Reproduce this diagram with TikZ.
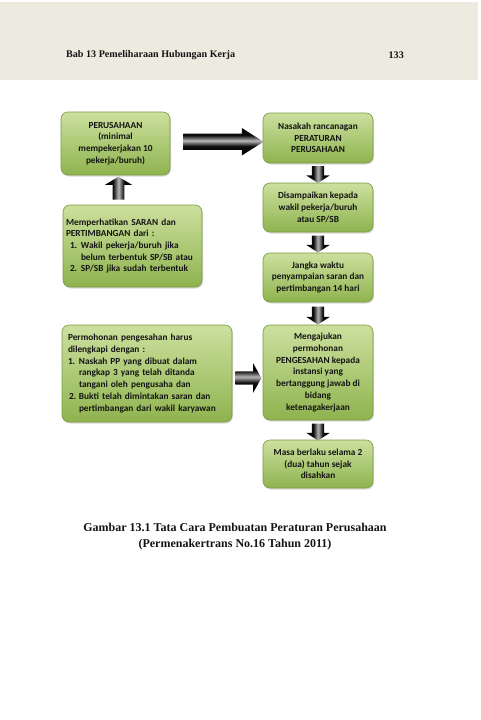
\documentclass[tikz,border=0pt]{standalone}
\usepackage{fontspec}
\setmainfont{Liberation Serif}
\newfontfamily\boxfont{Carlito}
\usetikzlibrary{positioning,calc,shapes.arrows,shadows}

\definecolor{bandgray}{HTML}{EDEAE0}
\definecolor{boxtop}{HTML}{CCE09E}
\definecolor{boxbottom}{HTML}{8FB34F}
\definecolor{boxline}{HTML}{7A9A40}
\definecolor{inkdark}{HTML}{141414}

\pgfdeclareverticalshading{arrowshadeh}{100bp}{color(0bp)=(black!85); color(30bp)=(black);
  color(42bp)=(black!95); color(52bp)=(gray!55); color(62bp)=(black!95); color(80bp)=(black); color(100bp)=(black!80)}
\pgfdeclarehorizontalshading{arrowshadev}{100bp}{color(0bp)=(black!85); color(30bp)=(black);
  color(40bp)=(black!95); color(50bp)=(gray!55); color(60bp)=(black!95); color(70bp)=(black); color(100bp)=(black!85)}

\newcommand{\numitem}[1]{\makebox[11pt][l]{#1}}
\newcommand{\contline}{\hspace*{11pt}}

\tikzset{
  stepbox/.style={rectangle, rounded corners=7pt, draw=boxline, line width=0.6pt,
    top color=boxtop, bottom color=boxbottom,
    drop shadow={opacity=0.3, shadow xshift=1pt, shadow yshift=-1.5pt},
    font=\boxfont\bfseries\fontsize{9.3}{11.7}\selectfont, text=inkdark,
    align=center, inner sep=3pt},
  notebox/.style={stepbox, align=left},
  blockarrow/.style={single arrow, draw=none, shade},
  harrow/.style={blockarrow, shading=arrowshadeh},
  varrow/.style={blockarrow, shading=arrowshadev},
  headtext/.style={font=\bfseries\fontsize{10.1}{12}\selectfont, text=inkdark, inner sep=0pt},
  captext/.style={font=\bfseries\fontsize{12}{14}\selectfont, text=inkdark, inner sep=0pt}
}

\begin{document}
\begin{tikzpicture}[x=1pt,y=-1pt]
\useasboundingbox (0,0) rectangle (480,720);

% header
\fill[bandgray] (0,2) rectangle (478,80);
\node[headtext, anchor=west] (chapter) at (66,55) {Bab 13 Pemeliharaan Hubungan Kerja};
\node[headtext, anchor=east] (pagenum) at (404,55) {133};

% left column
\node[stepbox, minimum width=109pt, minimum height=63pt] (company) at (115.5,143.5)
  {PERUSAHAAN\\(minimal\\mempekerjakan 10\\pekerja/buruh)};
\node[notebox, text width=133pt, minimum height=82pt] (advice) at (132.5,246)
  {Memperhatikan SARAN dan\\PERTIMBANGAN dari :\\
   \hspace*{4pt}\numitem{1.}Wakil pekerja/buruh jika\\
   \hspace*{4pt}\contline belum terbentuk SP/SB atau\\
   \hspace*{4pt}\numitem{2.}SP/SB jika sudah terbentuk};
\node[notebox, text width=158pt, inner xsep=6pt, minimum height=97pt] (request) at (147,373.5)
  {Permohonan pengesahan harus\\dilengkapi dengan :\\
   \numitem{1.}Naskah PP yang dibuat dalam\\
   \contline rangkap 3 yang telah ditanda\\
   \contline tangani oleh pengusaha dan\\
   \hspace*{1pt}\numitem{2.}\hspace*{-1pt}Bukti telah dimintakan saran dan\\
   \contline pertimbangan dari wakil karyawan};

% right column
\node[stepbox, minimum width=110pt, minimum height=50pt] (draft) at (318,138)
  {Nasakah rancanagan\\PERATURAN\\PERUSAHAAN};
\node[stepbox, minimum width=110pt, minimum height=49pt] (deliver) at (318,207.5)
  {Disampaikan kepada\\wakil pekerja/buruh\\atau SP/SB};
\node[stepbox, minimum width=110pt, minimum height=49pt] (period) at (318,277.5)
  {Jangka waktu\\penyampaian saran dan\\pertimbangan 14 hari};
\node[stepbox, minimum width=110pt, minimum height=95pt] (apply) at (318,372.5)
  {Mengajukan\\permohonan\\PENGESAHAN kepada\\instansi yang\\bertanggung jawab di\\bidang\\ketenagakerjaan};
\node[stepbox, minimum width=110pt, minimum height=48pt] (valid) at (318,464)
  {Masa berlaku selama 2\\(dua) tahun sejak\\disahkan};

% block arrows
\node[harrow, inner sep=8pt, minimum height=80pt, minimum width=27pt,
  single arrow head extend=5.5pt, single arrow tip angle=65] (toDraft)
  at ($(company.east)!0.5!(draft.west)+(0.5,1)$) {};
\node[varrow, shape border rotate=90, inner sep=5.75pt, minimum height=23pt, minimum width=27pt,
  single arrow head extend=7.75pt, single arrow tip angle=118] (toCompany)
  at ($(company.south)!0.5!(company.south|-advice.north)+(3,0)$) {};
\node[varrow, shape border rotate=270, inner sep=6pt, minimum height=17pt, minimum width=23pt,
  single arrow head extend=5.5pt, single arrow tip angle=114] (toDeliver)
  at ($(draft.south)!0.5!(deliver.north)+(0,-0.5)$) {};
\node[varrow, shape border rotate=270, inner sep=6pt, minimum height=17pt, minimum width=23pt,
  single arrow head extend=5.5pt, single arrow tip angle=114] (toPeriod)
  at ($(deliver.south)!0.5!(period.north)+(0,-0.5)$) {};
\node[varrow, shape border rotate=270, inner sep=6pt, minimum height=18pt, minimum width=23pt,
  single arrow head extend=5.5pt, single arrow tip angle=114] (toApply)
  at ($(period.south)!0.5!(apply.north)$) {};
\node[varrow, shape border rotate=270, inner sep=6pt, minimum height=17pt, minimum width=23pt,
  single arrow head extend=5.5pt, single arrow tip angle=114] (toValid)
  at ($(apply.south)!0.5!(valid.north)$) {};
\node[harrow, inner sep=6.5pt, minimum height=26pt, minimum width=29pt,
  single arrow head extend=8pt, single arrow tip angle=122] (toApplyLeft)
  at ($(request.east)!0.5!(apply.west)+(-1,5)$) {};

% caption
\node[captext] (caption) at (235,527) {Gambar 13.1 Tata Cara Pembuatan Peraturan Perusahaan};
\node[captext] (source) at (235,545) {(Permenakertrans No.16 Tahun 2011)};

\end{tikzpicture}
\end{document}
